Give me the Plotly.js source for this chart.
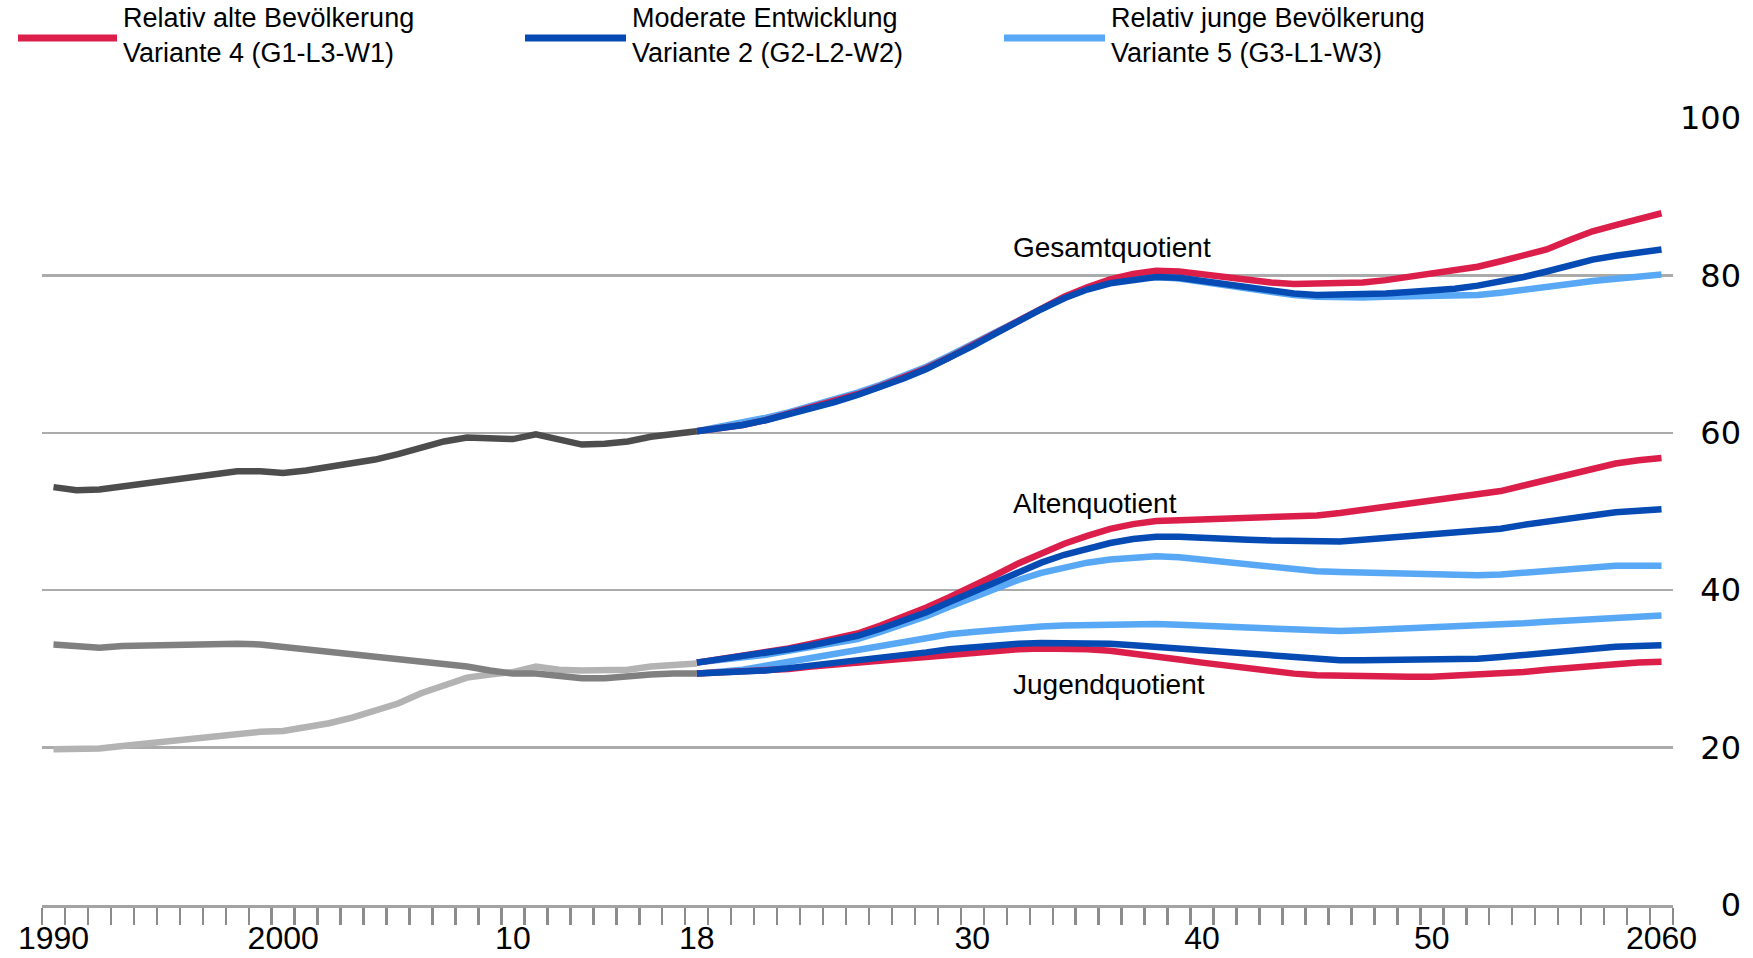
<!DOCTYPE html>
<html>
<head>
<meta charset="utf-8">
<script src="https://cdn.plot.ly/plotly-3.0.1.min.js"></script>
<style>
  html, body { margin: 0; padding: 0; background: #ffffff; }
  #chart { width: 1753px; height: 958px; }
</style>
</head>
<body>
<div id="chart"></div>
<script>
// Years covered by the observed period and by the projection period
const histStart = 1990, histEnd = 2018, projEnd = 2060;
function yearSpan(a, b) { const out = []; for (let y = a; y <= b; y++) out.push(y); return out; }
const histYears = yearSpan(histStart, histEnd);
const projYears = yearSpan(histEnd, projEnd);

// Observed ratios 1990–2018
const histGesamt = [53.1, 52.7, 52.8, 53.2, 53.6, 54.0, 54.4, 54.8, 55.1, 55.1,
                    54.9, 55.2, 55.6, 56.0, 56.6, 57.3, 58.1, 58.9, 59.4, 59.3,
                    59.2, 59.8, 59.2, 58.5, 58.6, 58.9, 59.5, 59.9, 60.2];
const histJugend = [33.1, 32.8, 32.7, 32.9, 33.0, 33.1, 33.2, 33.3, 33.2, 33.1,
                    32.8, 32.5, 32.2, 31.9, 31.7, 31.4, 31.1, 30.7, 30.3, 29.8,
                    29.4, 29.4, 29.1, 28.8, 28.8, 29.1, 29.3, 29.4, 29.4];
const histAlten  = [19.8, 19.8, 19.9, 20.2, 20.5, 20.8, 21.1, 21.5, 21.8, 22.0,
                    22.1, 22.5, 23.1, 23.8, 24.7, 25.6, 26.9, 28.0, 28.9, 29.3,
                    29.6, 30.3, 29.9, 29.8, 29.9, 29.9, 30.3, 30.5, 30.7];

// Projections 2018–2060, Variante 4 (relativ alte Bevölkerung)
const v4Gesamt = [60.2, 60.5, 61.0, 61.6, 62.4, 63.2, 64.0, 64.9, 65.9, 67.0,
                  68.2, 69.6, 71.1, 72.7, 74.3, 75.8, 77.3, 78.5, 79.5, 80.2,
                  80.6, 80.5, 80.1, 79.7, 79.4, 79.1, 78.9, 78.9, 78.9, 79.1,
                  79.4, 79.8, 80.1, 80.6, 81.1, 81.8, 82.5, 83.3, 84.5, 85.6,
                  86.4, 87.1, 87.9];
const v4Alten  = [30.8, 31.2, 31.6, 32.1, 32.6, 33.2, 33.8, 34.5, 35.5, 36.6,
                  37.8, 39.1, 40.4, 41.9, 43.4, 44.7, 45.9, 46.9, 47.8, 48.4,
                  48.8, 48.9, 49.0, 49.0, 49.0, 49.1, 49.3, 49.5, 49.8, 50.2,
                  50.6, 50.9, 51.2, 51.6, 52.0, 52.6, 53.3, 54.0, 54.8, 55.6,
                  56.1, 56.5, 56.8];
const v4Jugend = [29.4, 29.5, 29.6, 29.8, 30.0, 30.3, 30.6, 30.9, 31.1, 31.3,
                  31.5, 31.8, 32.0, 32.3, 32.5, 32.6, 32.6, 32.5, 32.3, 32.0,
                  31.6, 31.2, 30.8, 30.4, 30.0, 29.6, 29.4, 29.2, 29.1, 29.0,
                  29.0, 29.0, 29.0, 29.1, 29.2, 29.4, 29.6, 29.9, 30.2, 30.4,
                  30.6, 30.8, 30.9];

// Variante 2 (moderate Entwicklung)
const v2Gesamt = [60.2, 60.5, 61.0, 61.6, 62.3, 63.1, 63.9, 64.8, 65.8, 66.9,
                  68.1, 69.5, 71.0, 72.6, 74.2, 75.7, 77.1, 78.2, 79.0, 79.5,
                  79.8, 79.7, 79.3, 78.8, 78.3, 77.9, 77.7, 77.5, 77.5, 77.6,
                  77.7, 77.9, 78.0, 78.3, 78.7, 79.2, 79.8, 80.5, 81.3, 82.0,
                  82.5, 82.9, 83.3];
const v2Alten  = [30.8, 31.2, 31.5, 32.0, 32.5, 33.0, 33.6, 34.2, 35.1, 36.1,
                  37.2, 38.5, 39.8, 41.1, 42.4, 43.5, 44.5, 45.3, 46.0, 46.5,
                  46.8, 46.8, 46.6, 46.5, 46.4, 46.3, 46.2, 46.2, 46.2, 46.4,
                  46.6, 46.8, 47.0, 47.2, 47.4, 47.8, 48.3, 48.7, 49.2, 49.7,
                  49.9, 50.1, 50.3];
const v2Jugend = [29.4, 29.5, 29.6, 29.8, 30.1, 30.4, 30.7, 31.1, 31.4, 31.8,
                  32.1, 32.5, 32.8, 33.0, 33.2, 33.3, 33.3, 33.3, 33.2, 33.0,
                  32.8, 32.5, 32.3, 32.0, 31.8, 31.6, 31.4, 31.2, 31.1, 31.1,
                  31.1, 31.1, 31.1, 31.2, 31.3, 31.5, 31.8, 32.1, 32.4, 32.6,
                  32.8, 32.9, 33.0];

// Variante 5 (relativ junge Bevölkerung)
const v5Gesamt = [60.2, 60.7, 61.2, 61.9, 62.6, 63.4, 64.2, 65.1, 66.1, 67.2,
                  68.4, 69.8, 71.3, 72.8, 74.4, 75.8, 77.2, 78.3, 79.1, 79.6,
                  79.8, 79.6, 79.2, 78.7, 78.2, 77.8, 77.5, 77.3, 77.2, 77.2,
                  77.3, 77.3, 77.4, 77.4, 77.5, 77.8, 78.1, 78.5, 78.9, 79.3,
                  79.6, 79.8, 80.1];
const v5Alten  = [30.8, 31.1, 31.4, 31.8, 32.3, 32.8, 33.3, 33.8, 34.7, 35.6,
                  36.7, 37.9, 39.1, 40.3, 41.3, 42.2, 42.9, 43.5, 43.9, 44.2,
                  44.3, 44.2, 43.9, 43.6, 43.2, 42.9, 42.6, 42.4, 42.3, 42.2,
                  42.2, 42.1, 42.1, 42.0, 41.9, 42.0, 42.2, 42.4, 42.7, 43.0,
                  43.1, 43.1, 43.1];
const v5Jugend = [29.4, 29.6, 29.9, 30.4, 30.9, 31.4, 31.9, 32.4, 32.9, 33.5,
                  34.0, 34.4, 34.7, 35.0, 35.2, 35.4, 35.5, 35.6, 35.7, 35.7,
                  35.7, 35.6, 35.5, 35.3, 35.1, 35.0, 34.9, 34.9, 34.8, 34.9,
                  35.0, 35.1, 35.2, 35.3, 35.4, 35.6, 35.8, 36.0, 36.2, 36.4,
                  36.6, 36.8, 36.8];

// Axis labels
const xTickVals = [1990, 2000, 2010, 2018, 2030, 2040, 2050, 2060];
const xTickText = ['1990', '2000', '10', '18', '30', '40', '50', '2060'];
const yTickVals = [0, 20, 40, 60, 80, 100];
const yTickText = ['\u2007\u20070', '\u200720', '\u200740', '\u200760', '\u200780', '100'];

// Variants shown in the key
const variantNames = ['Relativ alte Bevölkerung<br>Variante 4 (G1-L3-W1)',
                      'Moderate Entwicklung<br>Variante 2 (G2-L2-W2)',
                      'Relativ junge Bevölkerung<br>Variante 5 (G3-L1-W3)'];

const RED = '#dc1e4b', BLUE = '#064bb4', LIGHT = '#58a8f5';
const G_DARK = '#4d4d4d', G_MID = '#808080', G_LIGHT = '#b3b3b3';
const LW = 6.5;
const FONT = 'Liberation Sans, Arial, sans-serif';
const WIDE_FONT = 'DejaVu Sans, Verdana, sans-serif';

function line(x, y, color) {
  return { x: x, y: y, type: 'scatter', mode: 'lines', hoverinfo: 'skip',
           showlegend: false, line: { color: color, width: LW } };
}

const traces = [
  // light blue first, then red, dark blue on top
  line(projYears, v5Gesamt, LIGHT), line(projYears, v5Alten, LIGHT), line(projYears, v5Jugend, LIGHT),
  line(projYears, v4Gesamt, RED),   line(projYears, v4Alten, RED),   line(projYears, v4Jugend, RED),
  line(projYears, v2Gesamt, BLUE),  line(projYears, v2Alten, BLUE),  line(projYears, v2Jugend, BLUE),
  line(histYears, histAlten, G_LIGHT),
  line(histYears, histJugend, G_MID),
  line(histYears, histGesamt, G_DARK)
];

// Plot area in pixels, used to place the key in paper coordinates
const W = 1753, H = 958, L = 42, R = 80, T = 118, B = 53;
const pw = W - L - R, ph = H - T - B;
const px = v => (v - L) / pw;
const py = v => (H - B - v) / ph;

const keyColors = [RED, BLUE, LIGHT];
const keyLineX = [[18, 117], [525, 626], [1004, 1105]];
const keyTextX = [121, 630, 1109];

const shapes = keyColors.map((c, i) => ({
  type: 'line', xref: 'paper', yref: 'paper',
  x0: px(keyLineX[i][0]), x1: px(keyLineX[i][1]), y0: py(38), y1: py(38),
  line: { color: c, width: 7 }
}));

const annotations = variantNames.map((t, i) => ({
  text: t, xref: 'paper', yref: 'paper', x: px(keyTextX[i]), y: py(36),
  xanchor: 'left', yanchor: 'middle', align: 'left', showarrow: false,
  font: { family: FONT, size: 27, color: '#000' }
}));

const seriesLabels = [['Gesamtquotient', 83.5], ['Altenquotient', 51.0], ['Jugendquotient', 28.0]];
seriesLabels.forEach(([t, y]) => annotations.push({
  text: t, xref: 'x', yref: 'y', x: 2031.7, y: y, xanchor: 'left', yanchor: 'middle',
  showarrow: false, font: { family: FONT, size: 28, color: '#000' }
}));

const layout = {
  width: W, height: H, autosize: false,
  margin: { l: L, r: R, t: T, b: B, pad: 0 },
  paper_bgcolor: '#ffffff', plot_bgcolor: '#ffffff',
  showlegend: false,
  font: { family: FONT, color: '#000' },
  xaxis: {
    range: [1989.5, 2060.5], fixedrange: true,
    tickmode: 'array', tickvals: xTickVals, ticktext: xTickText,
    ticks: '', showgrid: false, zeroline: false,
    showline: true, linecolor: '#a3a3a3', linewidth: 3,
    tickfont: { family: FONT, size: 32, color: '#000' },
    ticklabelstandoff: 3,
    minor: { tickmode: 'linear', tick0: 1989.5, dtick: 1, ticks: 'outside',
             ticklen: 17, tickwidth: 2.5, tickcolor: '#8c8c8c', showgrid: false }
  },
  yaxis: {
    range: [0, 100], fixedrange: true, side: 'right',
    tickmode: 'array', tickvals: yTickVals, ticktext: yTickText,
    ticks: '', showgrid: true, gridcolor: '#ababab', gridwidth: 2.5,
    zeroline: false, showline: false,
    tickfont: { family: WIDE_FONT, size: 32, color: '#000' },
    ticklabelstandoff: 6
  },
  shapes: shapes,
  annotations: annotations
};

Plotly.newPlot('chart', traces, layout, { staticPlot: true, displayModeBar: false });
</script>
</body>
</html>
